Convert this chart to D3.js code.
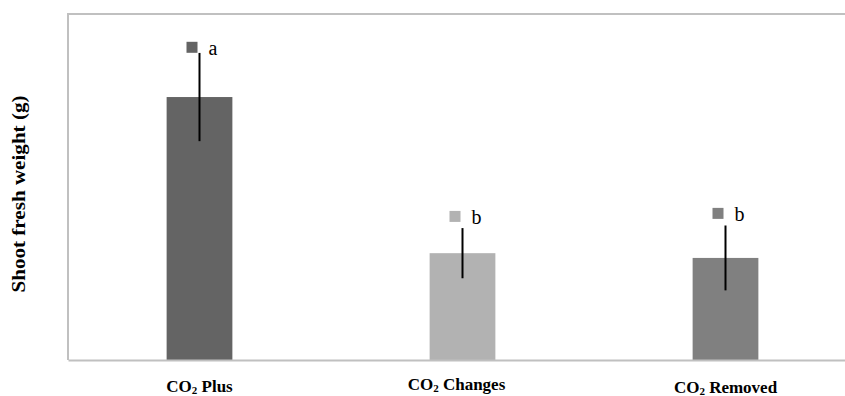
<!DOCTYPE html>
<html>
<head>
<meta charset="utf-8">
<script src="https://cdn.jsdelivr.net/npm/d3@7"></script>
<style>
  body { margin: 0; background: #fff; }
  svg { display: block; }
  text { font-family: 'Liberation Serif', 'Times New Roman', serif; }
</style>
</head>
<body>
<script>
// data
const categories = ["Plus", "Changes", "Removed"];
const weights = [6.08, 2.47, 2.36];
const errors = [1.02, 0.58, 0.75];
const letters = ["a", "b", "b"];
const letterLevel = [7.23, 3.32, 3.39];
const colors = ["#646464", "#b2b2b2", "#808080"];

const width = 845, height = 396;
const margin = { top: 14, left: 68, bottom: 360, right: 857 };

const svg = d3.select('body').append('svg')
    .attr('width', width)
    .attr('height', height);

const xScale = d3.scaleBand()
    .domain(categories)
    .range([margin.left, margin.right])
    .paddingInner(0.75)
    .paddingOuter(0.375);

const yScale = d3.scaleLinear()
    .domain([0, 8])
    .range([margin.bottom, margin.top]);

// chart border (top / left)
svg.append('path')
    .attr('d', `M${margin.left},${margin.bottom} V${margin.top} H${margin.right}`)
    .attr('fill', 'none')
    .attr('stroke', '#c0c0c0')
    .attr('stroke-width', 2);

// bars
svg.append('g').selectAll('rect')
    .data(categories)
    .enter()
    .append('rect')
    .attr('x', d => xScale(d))
    .attr('width', xScale.bandwidth())
    .attr('y', (d, i) => yScale(weights[i]))
    .attr('height', (d, i) => yScale(0) - yScale(weights[i]))
    .attr('fill', (d, i) => colors[i]);

// x axis line
svg.append('g')
    .attr('transform', `translate(0,${yScale(0)})`)
    .call(d3.axisBottom(xScale).tickSize(0).tickFormat(''))
    .call(g => g.select('.domain').attr('stroke', '#c0c0c0').attr('stroke-width', 2));

// error bars
const cx = d => xScale(d) + xScale.bandwidth() / 2;
svg.append('g').selectAll('line')
    .data(categories)
    .enter()
    .append('line')
    .attr('x1', cx).attr('x2', cx)
    .attr('y1', (d, i) => yScale(weights[i] + errors[i]))
    .attr('y2', (d, i) => yScale(weights[i] - errors[i]))
    .attr('stroke', '#000')
    .attr('stroke-width', 2);

// letter labels with legend keys
const lab = svg.append('g').selectAll('g')
    .data(categories)
    .enter()
    .append('g');
lab.append('rect')
    .attr('x', d => cx(d) - 13)
    .attr('y', (d, i) => yScale(letterLevel[i]) - 5.5)
    .attr('width', 11)
    .attr('height', 11)
    .attr('fill', (d, i) => colors[i]);
lab.append('text')
    .attr('x', d => cx(d) + 9)
    .attr('y', (d, i) => yScale(letterLevel[i]) + 8)
    .attr('font-size', 20)
    .text((d, i) => letters[i]);

// category labels
const dyLab = [32, 30, 33];
const xl = svg.append('g').selectAll('text')
    .data(categories)
    .enter()
    .append('text')
    .attr('x', (d, i) => cx(d) - (i === 1 ? 6 : 0))
    .attr('y', (d, i) => yScale(0) + dyLab[i])
    .attr('text-anchor', 'middle')
    .attr('font-weight', 'bold')
    .attr('font-size', 17);
xl.append('tspan').text('CO');
xl.append('tspan').attr('font-size', 11).attr('dy', 2).text('2');
xl.append('tspan').attr('dy', -2).text(d => ' ' + d);

// y axis title
svg.append('text')
    .attr('transform', `translate(25,194) rotate(-90)`)
    .attr('text-anchor', 'middle')
    .attr('font-weight', 'bold')
    .attr('font-size', 18)
    .attr('textLength', 197)
    .attr('lengthAdjust', 'spacingAndGlyphs')
    .text('Shoot fresh weight (g)');
</script>
</body>
</html>
